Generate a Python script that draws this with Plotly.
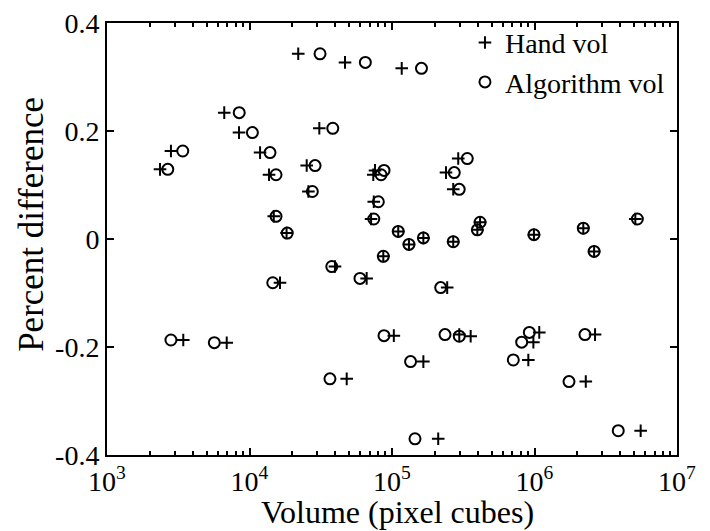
import plotly.graph_objects as go

# Percent difference for each object, with hand-measured and algorithm-measured volumes
pct_diff = [0.343, 0.327, 0.316, 0.234, 0.197, 0.163, 0.129, 0.160, 0.119, 0.205,
            0.136, 0.088, 0.042, 0.011, 0.127, 0.119, 0.069, 0.037, 0.014, 0.149,
            0.123, 0.092, 0.031, 0.017, 0.008, 0.020, 0.037, -0.010, 0.002, -0.005,
            -0.023, -0.090, -0.179, -0.177, -0.180, -0.173, -0.191, -0.224, -0.177, -0.227,
            -0.264, -0.370, -0.355, -0.032, -0.051, -0.081, -0.073, -0.187, -0.192, -0.259]

hand_vol = [21980, 46800, 117000, 6650, 8440, 2810, 2355, 11860, 13710, 30900,
            25200, 25900, 14800, 18200, 76000, 73900, 74500, 71300, 110600, 291600,
            239300, 269000, 415000, 397000, 991000, 2.20e6, 5.1e6, 131500, 166000, 269000,
            2.62e6, 244000, 103000, 296600, 356500, 1.08e6, 982000, 905000, 2.66e6, 166000,
            2.29e6, 211000, 5.56e6, 86900, 39800, 16370, 66400, 3430, 6920, 48100]

alg_vol = [31260, 65000, 161000, 8470, 10480, 3400, 2670, 13930, 15350, 38400,
           28850, 27600, 15350, 18400, 87900, 83800, 80200, 74500, 110600, 337500,
           273500, 296300, 415000, 397000, 991000, 2.20e6, 5.27e6, 131500, 166000, 269000,
           2.62e6, 219600, 87900, 235500, 296600, 920000, 813000, 710000, 2.26e6, 135000,
           1.746e6, 145000, 3.87e6, 86900, 37800, 14560, 59600, 2810, 5665, 36700]

x_tickvals = [1e3, 1e4, 1e5, 1e6, 1e7]
x_ticktext = ["10<sup>3</sup>", "10<sup>4</sup>", "10<sup>5</sup>", "10<sup>6</sup>", "10<sup>7</sup>"]
y_tickvals = [-0.4, -0.2, 0, 0.2, 0.4]
y_ticktext = ["-0.4", "-0.2", "0", "0.2", "0.4"]
x_minor = [m * 10 ** e for e in range(3, 7) for m in range(2, 10)]

FONT = "Liberation Serif"

fig = go.Figure()
fig.add_trace(go.Scatter(
    x=hand_vol, y=pct_diff, mode="markers", name="Hand vol",
    marker=dict(symbol="cross-thin-open", size=9, color="black",
                line=dict(color="black", width=2)),
))
fig.add_trace(go.Scatter(
    x=alg_vol, y=pct_diff, mode="markers", name="Algorithm vol",
    marker=dict(symbol="circle-open", size=11, color="black",
                line=dict(color="black", width=2)),
))
# invisible trace on overlay axis carrying the minor log ticks
fig.add_trace(go.Scatter(x=[1e3, 1e7], y=[0, 0], xaxis="x2", mode="markers",
                         marker=dict(opacity=0), showlegend=False, hoverinfo="skip"))

fig.update_layout(
    width=710, height=531,
    margin=dict(l=107, r=33, t=23, b=76, autoexpand=False),
    paper_bgcolor="white", plot_bgcolor="white",
    font=dict(family=FONT, size=28, color="black"),
    showlegend=True,
    legend=dict(x=0.628, y=1.012, xanchor="left", yanchor="top",
                bgcolor="rgba(0,0,0,0)", borderwidth=0,
                font=dict(family=FONT, size=28), tracegroupgap=0, itemwidth=30),
    xaxis=dict(
        type="log", range=[3, 7], automargin=False,
        tickmode="array", tickvals=x_tickvals, ticktext=x_ticktext,
        ticks="inside", ticklen=7, tickwidth=1.5, tickcolor="black",
        showline=True, linecolor="black", linewidth=2, mirror="ticks",
        showgrid=False, zeroline=False,
        tickfont=dict(family=FONT, size=28),
    ),
    xaxis2=dict(
        type="log", range=[3, 7], overlaying="x", side="bottom", automargin=False,
        tickmode="array", tickvals=x_minor, showticklabels=False,
        ticks="inside", ticklen=4, tickwidth=1.5, tickcolor="black",
        showline=False, mirror="ticks", showgrid=False, zeroline=False,
    ),
    yaxis=dict(
        range=[-0.4, 0.4], automargin=False,
        tickmode="array", tickvals=y_tickvals, ticktext=y_ticktext,
        ticks="inside", ticklen=7, tickwidth=1.5, tickcolor="black",
        showline=True, linecolor="black", linewidth=2, mirror="ticks",
        showgrid=False, zeroline=False,
        tickfont=dict(family=FONT, size=28),
    ),
    annotations=[
        dict(text="Volume (pixel cubes)", xref="paper", yref="paper",
             x=0.5105, y=-0.132, xanchor="center", yanchor="middle",
             showarrow=False, font=dict(family=FONT, size=32)),
        dict(text="Percent difference", xref="paper", yref="paper",
             x=-0.1316, y=0.535, xanchor="center", yanchor="middle", textangle=-90,
             showarrow=False, font=dict(family=FONT, size=35)),
    ],
)

fig.write_html("out.html")
